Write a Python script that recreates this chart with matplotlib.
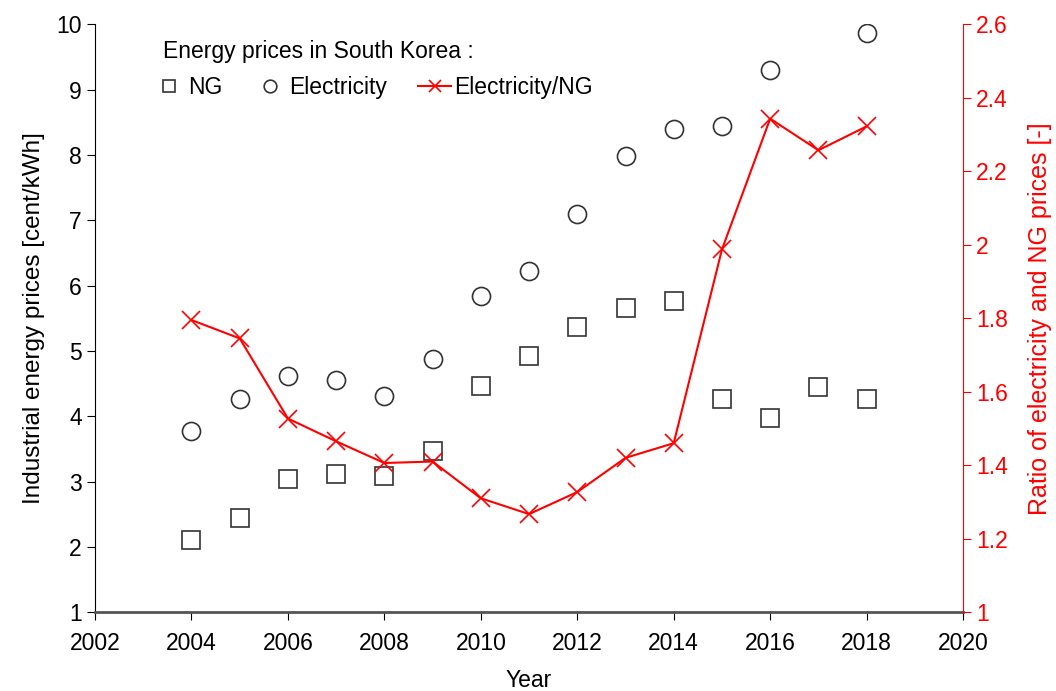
import matplotlib.pyplot as plt
import numpy as np

plt.rcParams['font.family'] = ['Liberation Sans', 'DejaVu Sans']

# data
years = np.arange(2004, 2019)
ng_price = [2.10, 2.44, 3.04, 3.12, 3.08, 3.47, 4.47, 4.92, 5.37, 5.65, 5.76, 4.26, 3.98, 4.44, 4.26]
elec_price = [3.77, 4.26, 4.61, 4.56, 4.31, 4.87, 5.84, 6.23, 7.09, 7.98, 8.39, 8.44, 9.30, np.nan, 9.87]
ratio = [1.795, 1.745, 1.527, 1.465, 1.406, 1.41, 1.31, 1.267, 1.327, 1.42, 1.46, 1.987, 2.343, 2.257, 2.322]

x_ticks = np.arange(2002, 2021, 2)
left_ticks = np.arange(1, 11)
right_ticks = [1, 1.2, 1.4, 1.6, 1.8, 2, 2.2, 2.4, 2.6]
right_labels = ['1', '1.2', '1.4', '1.6', '1.8', '2', '2.2', '2.4', '2.6']

fig, ax = plt.subplots(figsize=(10.56, 6.91), dpi=100)
fig.subplots_adjust(left=0.090, right=0.912, top=0.965, bottom=0.114)
ax2 = ax.twinx()

h1, = ax.plot(years, ng_price, linestyle='none', marker='s', markersize=13,
              markerfacecolor='none', markeredgecolor='#333333', markeredgewidth=1.2, label='NG')
h2, = ax.plot(years, elec_price, linestyle='none', marker='o', markersize=13,
              markerfacecolor='none', markeredgecolor='#333333', markeredgewidth=1.2, label='Electricity')
h3, = ax2.plot(years, ratio, color='red', marker='x', markersize=13, linewidth=1.5,
               markeredgewidth=1.2, label='Electricity/NG')

ax.set_xlim(2002, 2020)
ax.set_ylim(1, 10)
ax2.set_ylim(1, 2.6)
ax.set_xticks(x_ticks)
ax.set_yticks(left_ticks)
ax2.set_yticks(right_ticks)
ax2.set_yticklabels(right_labels)

for a in (ax, ax2):
    a.spines['top'].set_visible(False)
ax.spines['right'].set_visible(False)
ax2.spines['left'].set_visible(False)
ax2.spines['bottom'].set_visible(False)
ax2.spines['right'].set_color('red')
ax.spines['bottom'].set_color('#555555')
ax.spines['bottom'].set_linewidth(2)

ax.tick_params(axis='x', direction='out', length=6, labelsize=16.5, pad=8)
ax.tick_params(axis='y', direction='out', length=6, labelsize=16.5)
ax2.tick_params(axis='y', direction='out', length=6, labelsize=16.5, colors='red')

ax.set_xlabel('Year', fontsize=16.5, labelpad=10)
ax.set_ylabel('Industrial energy prices [cent/kWh]', fontsize=17.5, labelpad=8)
ax2.set_ylabel('Ratio of electricity and NG prices [-]', fontsize=18, color='red', labelpad=14)

# legend title drawn as plain text, legend row underneath
ax.text(0.078, 0.954, 'Energy prices in South Korea :', transform=ax.transAxes,
        fontsize=16.5, ha='left', va='center')
ax.legend(handles=[h1, h2, h3], ncol=3, frameon=False, loc='upper left',
          bbox_to_anchor=(0.0657, 0.912), borderaxespad=0, borderpad=0,
          fontsize=16.5, handlelength=1.45, handletextpad=0.12,
          columnspacing=1.35, markerscale=0.7)

fig.savefig('out.png', dpi=100)
